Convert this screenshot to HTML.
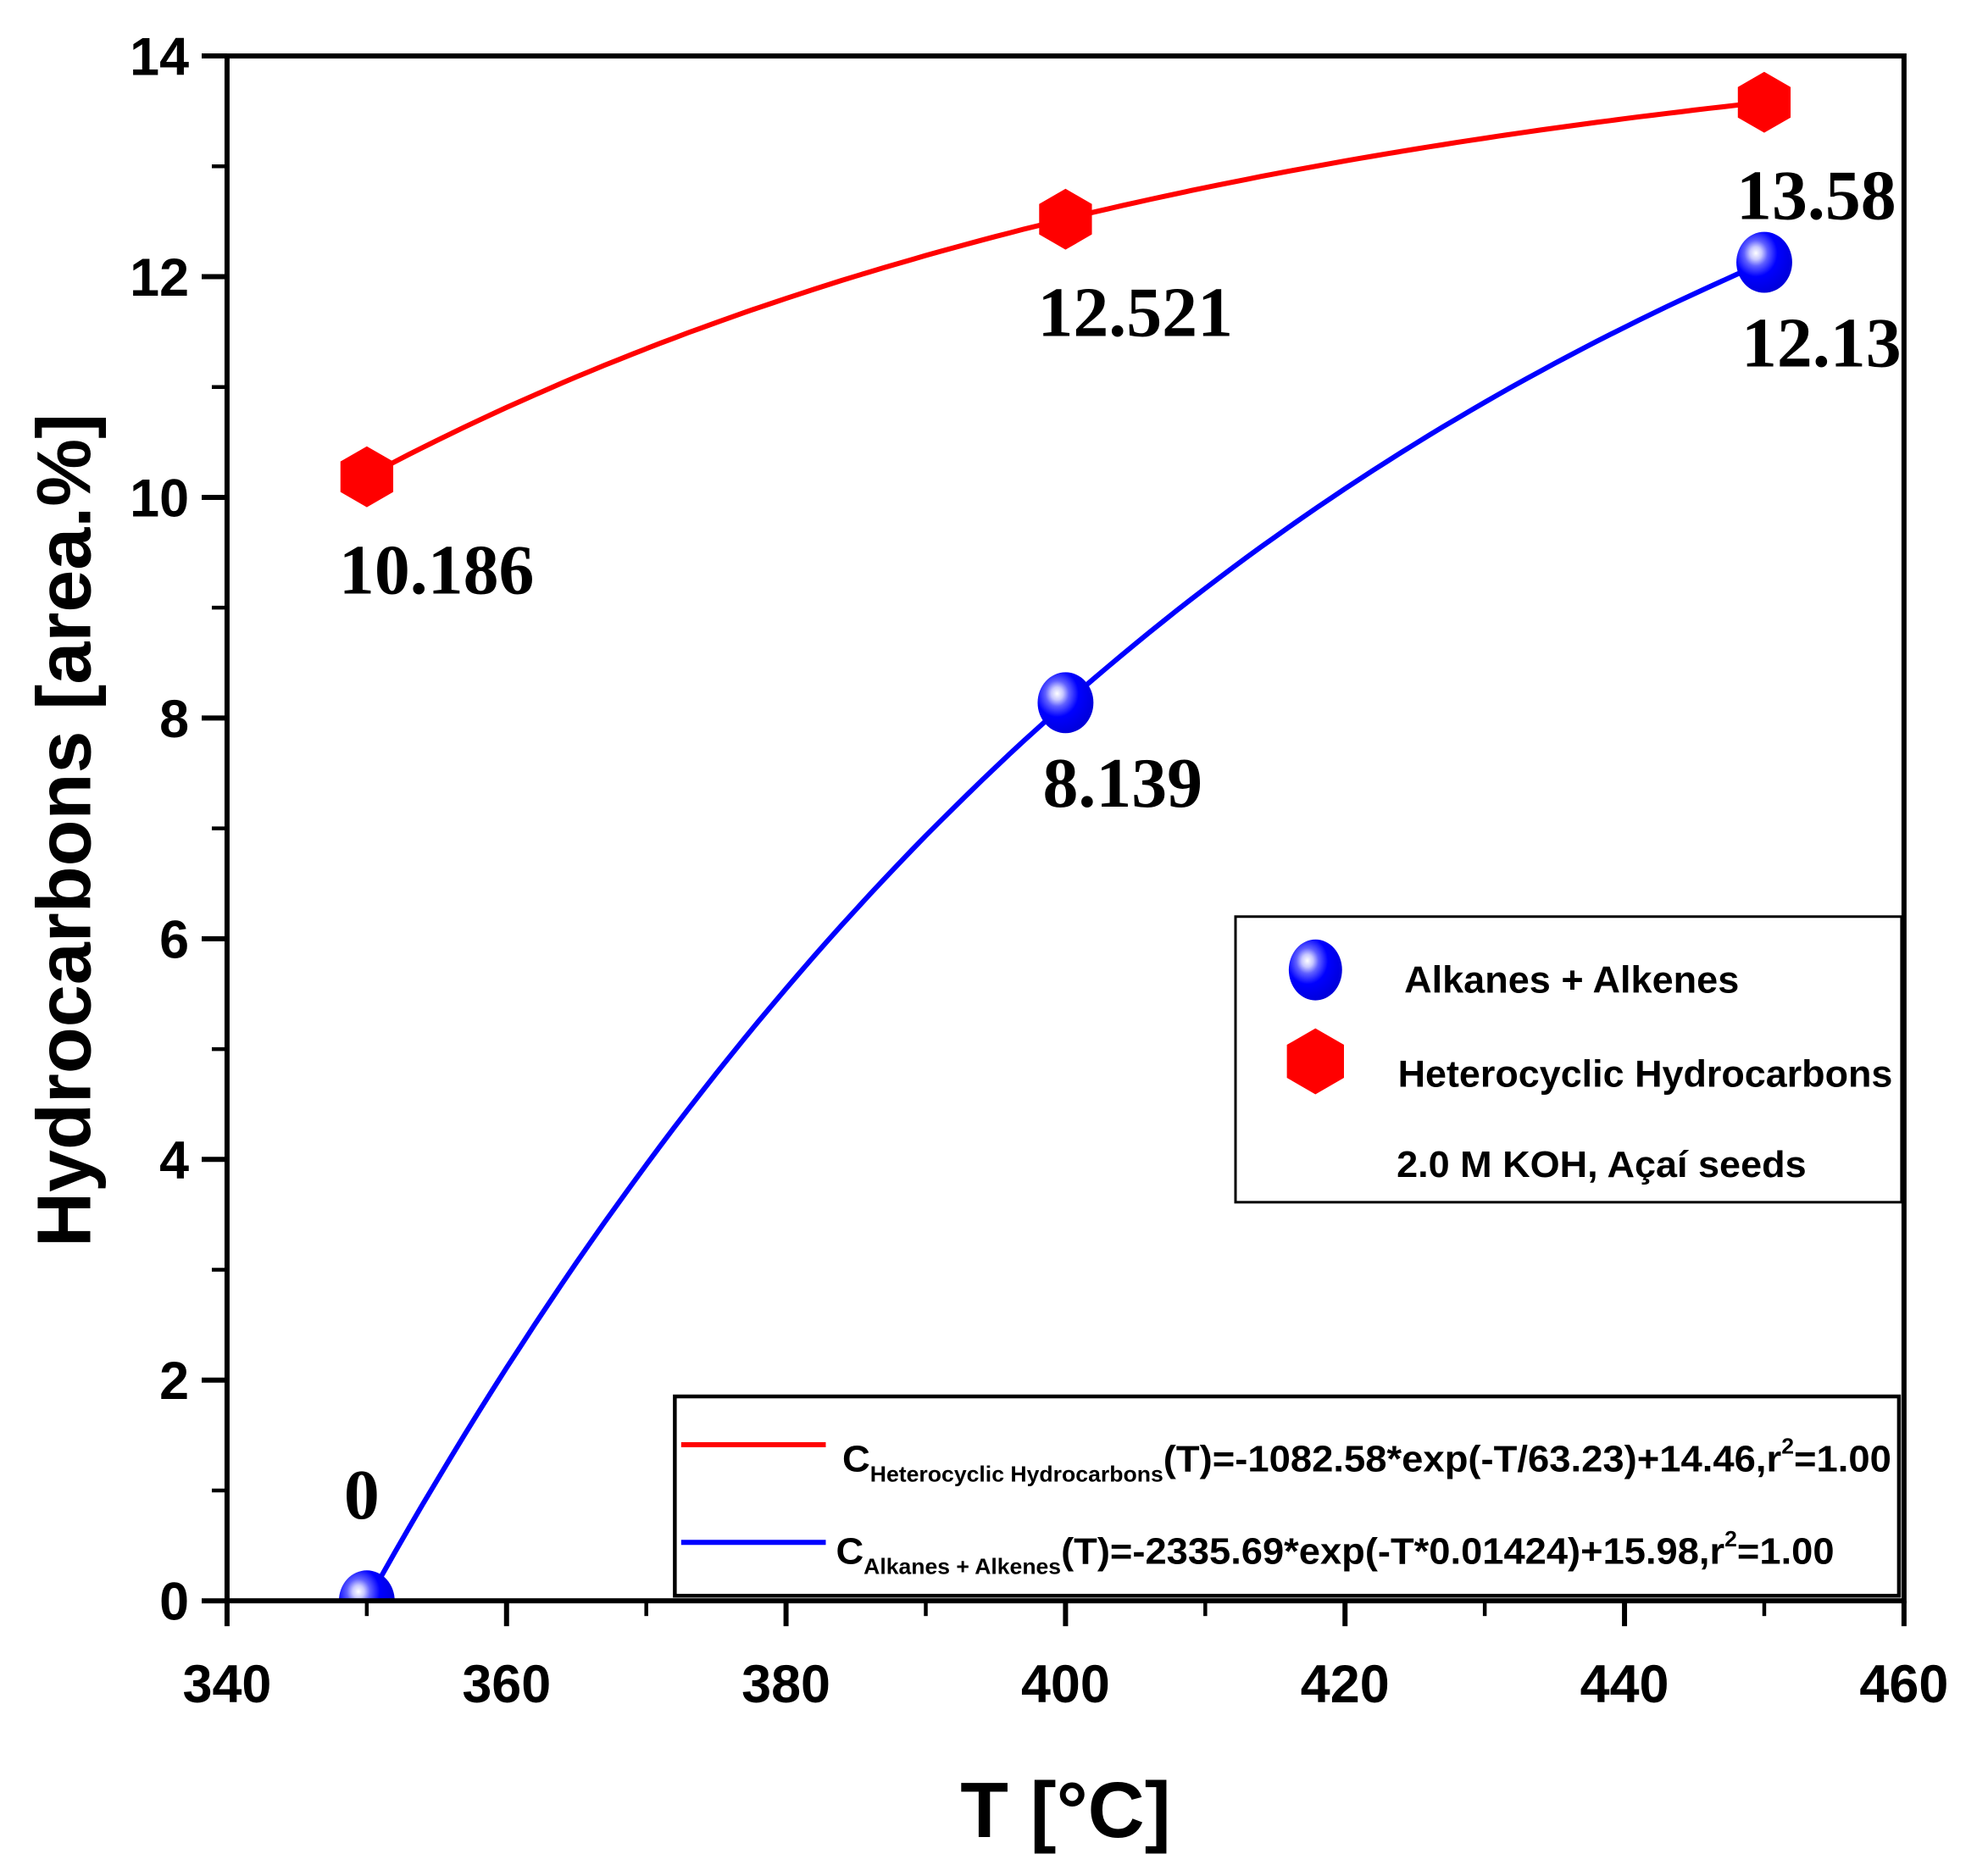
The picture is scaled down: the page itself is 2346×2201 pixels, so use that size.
<!DOCTYPE html>
<html><head><meta charset="utf-8"><style>
html,body{margin:0;padding:0;background:#fff;}
svg{display:block;}
text{font-family:"Liberation Sans",sans-serif;font-weight:bold;}
.serif{font-family:"Liberation Serif",serif;}
</style></head><body>
<svg id="chart" width="2346" height="2201" viewBox="0 0 1552 1456" preserveAspectRatio="none" xmlns="http://www.w3.org/2000/svg">
<defs>
<radialGradient id="sph" cx="0.35" cy="0.35" r="0.7">
<stop offset="0" stop-color="#fff"/><stop offset="0.15" stop-color="#c8c8ff"/><stop offset="0.3" stop-color="#6060ff"/><stop offset="0.55" stop-color="#0000ff"/><stop offset="1" stop-color="#0000d8"/>
</radialGradient>
<clipPath id="pc"><rect x="180" y="0" width="1322" height="1262"/></clipPath>
</defs>
<g id="plot" transform="translate(-1,-0.9) scale(0.9903,0.991)"></g>
</svg>
<script>
const xTicks=[340,360,380,400,420,440,460];
const yTicks=[0,2,4,6,8,10,12,14];
const temps=[350,400,450];
const alkanes=[0,8.139,12.13];
const hetero=[10.186,12.521,13.58];
const alkLabels=["0","8.139","12.13"];
const hetLabels=["10.186","12.521","13.58"];
const hetFit=[-1082.58,63.23,14.46];
const alkFit=[-2335.69,0.01424,15.98];

const NS="http://www.w3.org/2000/svg";
const g=document.getElementById('plot');
const X0=180,X1=1502,Y0=1262,Y1=45;
const sx=v=>X0+(v-340)/120*(X1-X0);
const sy=v=>Y0-v/14*(Y0-Y1);
function mk(tag,attrs,parent){const e=document.createElementNS(NS,tag);for(const k in attrs)e.setAttribute(k,attrs[k]);(parent||g).appendChild(e);return e;}

// fit curves
function curve(f,color,name){
 let d='';
 for(let T=temps[0];T<=temps[temps.length-1]+0.001;T+=1){
  const v=f(T);d+=(d?'L':'M')+sx(T).toFixed(1)+','+sy(v).toFixed(1);
 }
 let p=mk('path',{d:d,fill:'none',stroke:color,'stroke-width':4});
 
 
}
curve(T=>hetFit[0]*Math.exp(-T/hetFit[1])+hetFit[2],'#ff0000','heterocyclic-fit-line');
curve(T=>alkFit[0]*Math.exp(-T*alkFit[1])+alkFit[2],'#0000ff','alkanes-fit-line');

function hex(cx,cy,r){let pts=[];for(let k=0;k<6;k++){const a=Math.PI/180*(60*k-90);pts.push((cx+r*Math.cos(a)).toFixed(1)+','+(cy+r*Math.sin(a)).toFixed(1));}return pts.join(' ');}
const mg=mk('g',{'clip-path':'url(#pc)'});


temps.forEach((T,i)=>{
 let h=mk('polygon',{points:hex(sx(T),sy(hetero[i]),24),fill:'#ff0000'},mg);
 
 
 let c=mk('ellipse',{cx:sx(T),cy:sy(alkanes[i]),rx:22,ry:24,fill:'url(#sph)'},mg);
 
 
});
// value labels
temps.forEach((T,i)=>{
 let l=mk('text',{x:sx(T)-22,y:sy(hetero[i])+92,'font-size':56,class:'serif'});
 l.textContent=hetLabels[i];
 
 
 let dy=i===0?-65:82;
 let l2=mk('text',{x:sx(T)-18,y:sy(alkanes[i])+dy,'font-size':56,class:'serif'});
 l2.textContent=alkLabels[i];
 
 
});
let mask=mk('rect',{x:X1,y:0,width:80,height:Y0,fill:'#fff'});



// frame
let fr=mk('rect',{x:X0,y:Y1,width:X1-X0,height:Y0-Y1,fill:'none',stroke:'#000','stroke-width':4});



xTicks.forEach((v,i)=>{
 let t=mk('line',{x1:sx(v),x2:sx(v),y1:Y0,y2:Y0+20,stroke:'#000','stroke-width':4});
 
 
 let l=mk('text',{x:sx(v),y:Y0+80,'text-anchor':'middle','font-size':42});
 l.textContent=v;
 
 
 if(i<xTicks.length-1){
  let m=mk('line',{x1:sx(v+10),x2:sx(v+10),y1:Y0,y2:Y0+12,stroke:'#000','stroke-width':3});
  
  
 }
});
yTicks.forEach((v,i)=>{
 let t=mk('line',{x1:X0-20,x2:X0,y1:sy(v),y2:sy(v),stroke:'#000','stroke-width':4});
 
 
 let l=mk('text',{x:X0-30,y:sy(v)+15,'text-anchor':'end','font-size':42});
 l.textContent=v;
 
 
 if(i<yTicks.length-1){
  let m=mk('line',{x1:X0-12,x2:X0,y1:sy(v+1),y2:sy(v+1),stroke:'#000','stroke-width':3});
  
  
 }
});
let xt=mk('text',{x:841,y:1448,'text-anchor':'middle','font-size':62});
xt.textContent='T [°C]';


let yt=mk('text',{x:0,y:0,'text-anchor':'middle','font-size':60,transform:'translate(72,655) rotate(-90)'});
yt.textContent='Hydrocarbons [area.%]';



// legend 1
let lg=mk('rect',{x:975,y:723,width:525,height:225,fill:'#fff',stroke:'#000','stroke-width':2});


let le=mk('ellipse',{cx:1038,cy:765,rx:21,ry:24,fill:'url(#sph)'});


let lt1=mk('text',{x:1108,y:783,'font-size':30,textLength:264,lengthAdjust:'spacingAndGlyphs'});
lt1.textContent='Alkanes + Alkenes';


let lh=mk('polygon',{points:hex(1038,837,26),fill:'#ff0000'});


let lt2=mk('text',{x:1103,y:857,'font-size':30,textLength:390,lengthAdjust:'spacingAndGlyphs'});
lt2.textContent='Heterocyclic Hydrocarbons';


let lt3=mk('text',{x:1102,y:928,'font-size':29,textLength:323,lengthAdjust:'spacingAndGlyphs'});
lt3.textContent='2.0 M KOH, Açaí seeds';



// legend 2
let lg2=mk('rect',{x:533,y:1101,width:965,height:157,fill:'#fff',stroke:'#000','stroke-width':3});


let e1=mk('line',{x1:538,x2:652,y1:1139,y2:1139,stroke:'#ff0000','stroke-width':4});


let e2=mk('line',{x1:538,x2:652,y1:1216,y2:1216,stroke:'#0000ff','stroke-width':4});


let q1=mk('text',{x:665,y:1160,'font-size':29,textLength:827,lengthAdjust:'spacingAndGlyphs'});
q1.innerHTML='C<tspan font-size="17" dy="8">Heterocyclic Hydrocarbons</tspan><tspan dy="-8">(T)=-1082.58*exp(-T/63.23)+14.46,r</tspan><tspan font-size="17" dy="-14">2</tspan><tspan dy="14">=1.00</tspan>';


let q2=mk('text',{x:660,y:1233,'font-size':29,textLength:787,lengthAdjust:'spacingAndGlyphs'});
q2.innerHTML='C<tspan font-size="17" dy="8">Alkanes + Alkenes</tspan><tspan dy="-8">(T)=-2335.69*exp(-T*0.01424)+15.98,r</tspan><tspan font-size="17" dy="-14">2</tspan><tspan dy="14">=1.00</tspan>';


</script>
</body></html>
